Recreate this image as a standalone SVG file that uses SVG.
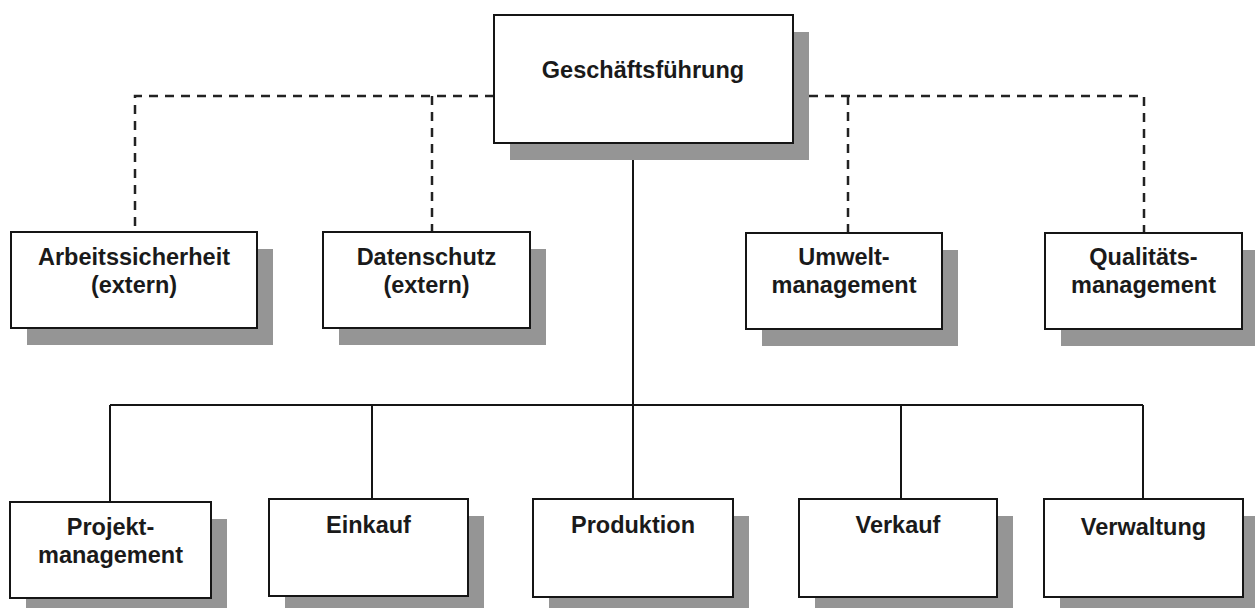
<svg xmlns="http://www.w3.org/2000/svg" width="1255" height="608" viewBox="0 0 1255 608">
<style>
.sh{fill:#959595}
.bx{fill:#fff;stroke:#151515;stroke-width:2}
.t{font-family:"Liberation Sans",Arial,sans-serif;font-weight:bold;font-size:23.5px;fill:#1a1a1a;text-anchor:middle}
.ln{fill:none;stroke:#151515;stroke-width:2}
.ds{fill:none;stroke:#222;stroke-width:2.5;stroke-dasharray:9 7}
</style>
<rect width="1255" height="608" fill="#fff"/>
<g id="connectors">
<path class="ln" d="M633 143V499M110 405H1143M110 405V502M372 405V499M901 405V499M1143 405V499"/>
<path class="ds" d="M494 96H135V232M432 96V232M793 96H1144V233M848 96V233"/>
</g>
<g id="n-gf"><rect class="sh" x="510" y="32" width="299" height="128"/><rect class="bx" x="494" y="15" width="299" height="128"/><text class="t" x="643" y="78">Geschäftsführung</text></g>
<g id="n-arb"><rect class="sh" x="27" y="249" width="246" height="96"/><rect class="bx" x="11" y="232" width="246" height="96"/><text class="t" x="134" y="265">Arbeitssicherheit</text><text class="t" x="134" y="293">(extern)</text></g>
<g id="n-dat"><rect class="sh" x="339" y="249" width="207" height="96"/><rect class="bx" x="323" y="232" width="207" height="96"/><text class="t" x="426.5" y="265">Datenschutz</text><text class="t" x="426.5" y="293">(extern)</text></g>
<g id="n-umw"><rect class="sh" x="762" y="250" width="196" height="96"/><rect class="bx" x="746" y="233" width="196" height="96"/><text class="t" x="844" y="265">Umwelt-</text><text class="t" x="844" y="293">management</text></g>
<g id="n-qual"><rect class="sh" x="1061" y="250" width="197" height="96"/><rect class="bx" x="1045" y="233" width="197" height="96"/><text class="t" x="1143.5" y="265">Qualitäts-</text><text class="t" x="1143.5" y="293">management</text></g>
<g id="n-proj"><rect class="sh" x="26" y="519" width="201" height="96"/><rect class="bx" x="10" y="502" width="201" height="96"/><text class="t" x="110.5" y="535">Projekt-</text><text class="t" x="110.5" y="563">management</text></g>
<g id="n-ein"><rect class="sh" x="285" y="516" width="199" height="97"/><rect class="bx" x="269" y="499" width="199" height="97"/><text class="t" x="368.5" y="533">Einkauf</text></g>
<g id="n-prod"><rect class="sh" x="549" y="516" width="200" height="98"/><rect class="bx" x="533" y="499" width="200" height="98"/><text class="t" x="633" y="533">Produktion</text></g>
<g id="n-verk"><rect class="sh" x="815" y="516" width="198" height="98"/><rect class="bx" x="799" y="499" width="198" height="98"/><text class="t" x="898" y="533">Verkauf</text></g>
<g id="n-verw"><rect class="sh" x="1060" y="516" width="199" height="98"/><rect class="bx" x="1044" y="499" width="199" height="98"/><text class="t" x="1143.5" y="535">Verwaltung</text></g>
</svg>
